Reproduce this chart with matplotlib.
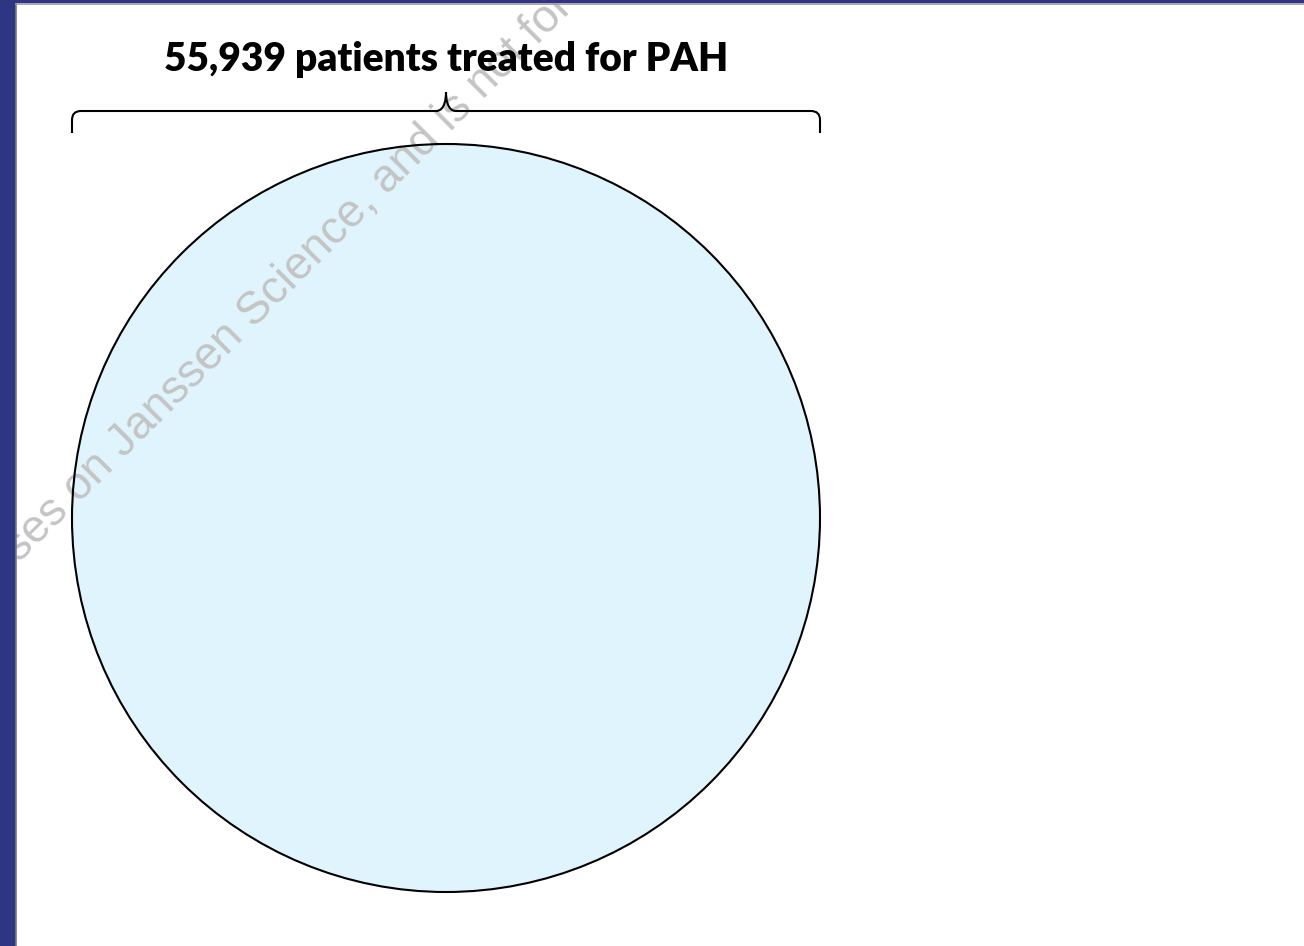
import matplotlib.pyplot as plt
from matplotlib.patches import Circle, Rectangle, PathPatch
from matplotlib.path import Path

# data
groups = ['Treated for PAH']
counts = [55939]
title_fmt = '{:,} patients treated for PAH'
watermark = 'purposes on Janssen Science, and is not for promotional use'

W, H = 1304, 946
fig = plt.figure(figsize=(W / 100, H / 100), dpi=100)
ax = fig.add_axes([0, 0, 1, 1])
ax.set_xlim(0, W)
ax.set_ylim(H, 0)
ax.axis('off')

# slide frame
ax.add_patch(Rectangle((0, 0), W, H, facecolor='white', edgecolor='none', zorder=0))
ax.add_patch(Rectangle((0, 0), 16, H, facecolor='#2E3582', edgecolor='none', zorder=5))
ax.add_patch(Rectangle((0, 0), W, 3.5, facecolor='#2E3582', edgecolor='none', zorder=5))
ax.plot([16, 16], [4, H], color='#7a7a7a', lw=1.2, zorder=6)
ax.plot([16, W], [4, 4], color='#9a9a9a', lw=1.2, zorder=6)

# circle: fill below the watermark, outline above it
cx, cy, r = 446, 518, 374
ax.add_patch(Circle((cx, cy), r, facecolor='#E0F4FD', edgecolor='none', zorder=1))
ax.add_patch(Circle((cx, cy), r, facecolor='none', edgecolor='black', lw=1.5, zorder=2))

# brace above the circle
left, right, yl, ytip, yend, rc = cx - r, cx + r, 111, 92, 133, 9
verts = [(left, yend), (left, yl + rc), (left, yl), (left + rc, yl),
         (cx - 10, yl), (cx - 1, yl), (cx, ytip + 6), (cx, ytip),
         (cx, ytip + 6), (cx + 1, yl), (cx + 10, yl),
         (right - rc, yl), (right, yl), (right, yl + rc), (right, yend)]
codes = [Path.MOVETO, Path.LINETO, Path.CURVE3, Path.CURVE3,
         Path.LINETO, Path.CURVE4, Path.CURVE4, Path.CURVE4,
         Path.CURVE4, Path.CURVE4, Path.CURVE4,
         Path.LINETO, Path.CURVE3, Path.CURVE3, Path.LINETO]
ax.add_patch(PathPatch(Path(verts, codes), facecolor='none', edgecolor='black', lw=1.5, zorder=3))

ax.text(cx, 71, title_fmt.format(counts[0]), ha='center', va='baseline',
        fontsize=28, fontweight='heavy', family='Lato', zorder=4)

# watermark
ax.text(-63, 646, watermark, rotation=45, rotation_mode='anchor', ha='left', va='baseline',
        fontsize=33, color='#C4C4C4', family='Liberation Sans', zorder=1.5)

fig.savefig('out.png', dpi=100)
